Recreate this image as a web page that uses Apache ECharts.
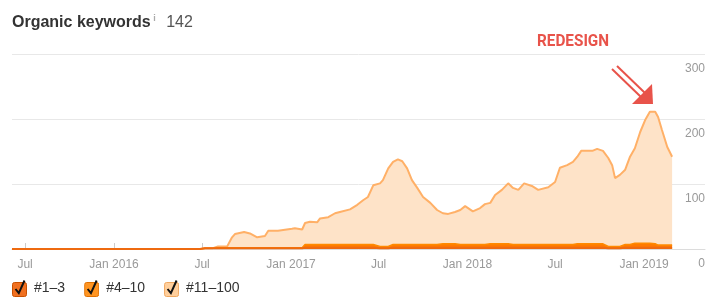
<!DOCTYPE html>
<html><head><meta charset="utf-8">
<script src="https://cdn.jsdelivr.net/npm/echarts@6/dist/echarts.min.js"></script>
<style>html,body{margin:0;padding:0;background:#fff}#c{width:713px;height:304px}</style>
</head><body><div id="c"></div>
<script>
const dates = ['2015-06-04','2016-06-27','2016-07-07','2016-07-22','2016-08-03','2016-08-22','2016-09-01','2016-09-07','2016-09-26','2016-10-08','2016-10-23','2016-11-08','2016-11-15','2016-12-05','2017-01-03','2017-01-09','2017-01-24','2017-01-30','2017-02-09','2017-02-24','2017-03-02','2017-03-19','2017-04-02','2017-04-12','2017-05-03','2017-05-18','2017-05-30','2017-06-09','2017-06-20','2017-07-04','2017-07-10','2017-07-21','2017-07-31','2017-08-10','2017-08-19','2017-08-29','2017-09-08','2017-09-19','2017-10-01','2017-10-16','2017-10-30','2017-11-11','2017-11-22','2017-12-06','2017-12-17','2017-12-27','2018-01-12','2018-01-27','2018-02-06','2018-02-17','2018-02-27','2018-03-13','2018-03-26','2018-04-05','2018-04-16','2018-04-28','2018-05-14','2018-05-27','2018-06-17','2018-07-01','2018-07-11','2018-07-26','2018-08-07','2018-08-16','2018-08-24','2018-09-16','2018-09-26','2018-10-08','2018-10-19','2018-10-27','2018-11-02','2018-11-12','2018-11-23','2018-12-03','2018-12-13','2018-12-24','2019-01-03','2019-01-13','2019-01-24','2019-01-30','2019-02-07','2019-02-18','2019-02-28'];
const pos1to3 = [0,0,1,1,1,1,1,1,1,1,1,1,1,1,1,1,1,2,2,2,2,2,2,2,2,2,2,2,2,1,1,1,2,2,2,2,2,2,2,2,2,2,2,2,2,2,2,2,2,2,2,2,2,2,2,2,2,2,2,2,2,2,2,2,2,2,2,2,1,1,1,1,2,2,2,2,2,2,2,2,2,2,2];
const pos4to10 = [0,0,0,0,1,1,1,1,1,1,1,1,1,1,1,1,1,5,5,5,5,5,5,5,5,5,5,5,5,3,3,3,5,5,5,5,5,5,5,5,5,6,6,6,5,5,5,5,5,6,6,6,6,5,5,5,5,5,5,5,5,5,5,6,6,6,6,6,3,3,3,3,5,5,7,7,7,7,6,4,4,4,4];
const pos11to100 = [0,0,0,0,2,2,16,21,24,22,16,18,26,26,29,30,28,33,35,34,40,42,48,50,54,61,68,73,91,97,102,120,127,131,128,117,99,87,73,64,53,47,46,49,53,59,51,56,62,63,75,83,93,87,84,94,90,84,88,96,118,122,127,134,143,143,146,143,136,125,105,110,115,135,146,171,189,202,203,197,177,151,136];
const tickDates = ['2015-07-01','2016-01-01','2016-07-01','2017-01-01','2017-07-01','2018-01-01','2018-07-01','2019-01-01'];
const tickLabels = ['Jul','Jan 2016','Jul','Jan 2017','Jul','Jan 2018','Jul','Jan 2019'];
const yTicks = [0,100,200,300];
const seriesNames = ['#1\u20133','#4\u201310','#11\u2013100'];
const totalKeywords = 142;

const FONT = '"Liberation Sans", Arial, Helvetica, sans-serif';
function ts(s){const p=s.split('-');return Date.UTC(+p[0],+p[1]-1,+p[2]);}
const tickTs = tickDates.map(ts);
function box(fill, stroke){
  const svg = '<svg xmlns="http://www.w3.org/2000/svg" width="15" height="18" viewBox="0 0 15 18">'+
   '<rect x="0.5" y="3.5" width="14" height="14" rx="2" fill="'+fill+'" stroke="'+stroke+'"/>'+
   '<path d="M3.5 10 L6.8 14.2 L12.5 1.5" fill="none" stroke="#111" stroke-width="2"/></svg>';
  return 'image://data:image/svg+xml;charset=utf-8,'+encodeURIComponent(svg);
}
const sumArr = (...arrs) => dates.map((d,i)=>[ts(d), arrs.reduce((s,a)=>s+a[i],0)]);
const chart = echarts.init(document.getElementById('c'), null, {renderer:'canvas'});
chart.setOption({
  animation:false,
  textStyle:{fontFamily:FONT},
  title:{left:7, top:9, text:'{a|Organic keywords}{i| i}{b| '+totalKeywords+'}',
    textStyle:{rich:{
      a:{fontFamily:FONT,fontSize:16,fontWeight:'bold',color:'#333'},
      i:{fontFamily:FONT,fontSize:9,color:'#aaa',verticalAlign:'top',padding:[0,6,8,0]},
      b:{fontFamily:FONT,fontSize:16,fontWeight:'normal',color:'#555'}}}},
  grid:{left:12,right:8,top:54,bottom:55},
  legend:{left:7, top:274, itemWidth:15, itemHeight:18, itemGap:19,
    textStyle:{fontFamily:FONT,fontSize:14,color:'#333',padding:[4,0,0,2]},
    data:[{name:seriesNames[0],icon:box('#f07020','#c85000')},
          {name:seriesNames[1],icon:box('#ff9522','#e07000')},
          {name:seriesNames[2],icon:box('#ffcf9c','#f0a860')}]},
  xAxis:{type:'value', min:ts('2015-06-04'), max:ts('2019-05-07'),
    axisLine:{show:true,lineStyle:{color:'#dcdcdc'}},
    axisTick:{show:true,inside:true,length:6,lineStyle:{color:'#ccc'},customValues:tickTs},
    axisLabel:{color:'#999',fontSize:12,fontFamily:FONT,margin:10,customValues:tickTs,
      formatter:v=>{const i=tickTs.indexOf(v);return i>=0?tickLabels[i]:'';}},
    splitLine:{show:false}},
  yAxis:{type:'value', position:'right', min:0, max:300, interval:100,
    axisLine:{show:false}, axisTick:{show:false},
    axisLabel:{inside:true,color:'#999',fontSize:12,fontFamily:FONT,margin:0,verticalAlign:'top',padding:[9,0,0,0],
      formatter:v=>yTicks.includes(v)?String(v):''},
    splitLine:{lineStyle:{color:'#e8e8e8'}}},
  series:[
    {name:seriesNames[2],type:'line',symbol:'none',data:sumArr(pos1to3,pos4to10,pos11to100),
     lineStyle:{width:2,color:'#ffb067'},itemStyle:{color:'#ffcf9c'},areaStyle:{color:'#fee3c8',opacity:1}},
    {name:seriesNames[1],type:'line',symbol:'none',data:sumArr(pos1to3,pos4to10),
     lineStyle:{width:1.5,color:'#ff8a00'},itemStyle:{color:'#ff9522'},areaStyle:{color:'#ff7a00',opacity:1}},
    {name:seriesNames[0],type:'line',symbol:'none',data:sumArr(pos1to3),
     lineStyle:{width:2,color:'#ee6a10'},itemStyle:{color:'#f07020'},areaStyle:{color:'#ee6a10',opacity:1}}
  ],
  graphic:[
    {type:'text',left:537,top:33,style:{text:'REDESIGN',fill:'#e8534a',font:'bold 17px Roboto, "Liberation Sans", sans-serif'},scaleX:0.9},
    {type:'line',shape:{x1:612,y1:69,x2:641,y2:97},style:{stroke:'#e8534a',lineWidth:2}},
    {type:'line',shape:{x1:617,y1:66,x2:645,y2:93},style:{stroke:'#e8534a',lineWidth:2}},
    {type:'polygon',shape:{points:[[652,84],[653,104],[632,104]]},style:{fill:'#e8534a'}}
  ]
});
</script></body></html>
